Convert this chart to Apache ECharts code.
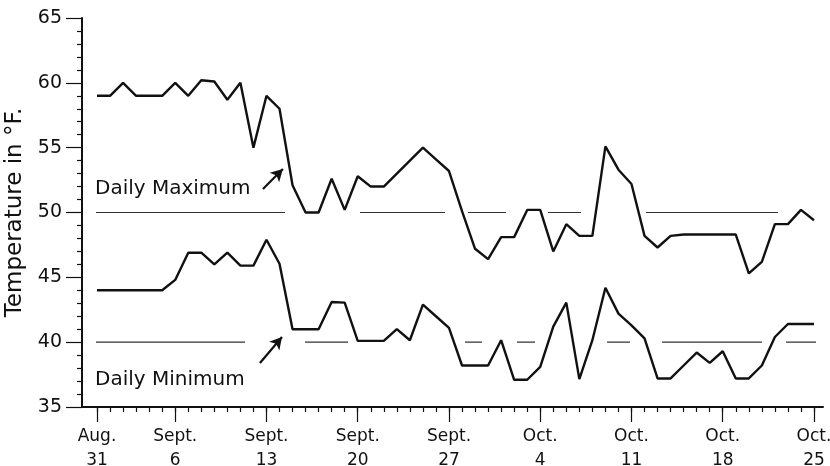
<!DOCTYPE html>
<html><head><meta charset="utf-8">
<script src="https://cdn.jsdelivr.net/npm/echarts@6/dist/echarts.min.js"></script>
<style>html,body{margin:0;padding:0;background:#fff}#c{width:830px;height:466px}</style>
</head><body><div id="c"></div>
<script>
// Day index 0 = Aug. 31, 55 = Oct. 25
const tickDays = [0, 6, 13, 20, 27, 34, 41, 48, 55];
const tickLabels = ['Aug.\n31', 'Sept.\n6', 'Sept.\n13', 'Sept.\n20', 'Sept.\n27', 'Oct.\n4', 'Oct.\n11', 'Oct.\n18', 'Oct.\n25'];
const dailyMax = [59, 59, 60, 59, 59, 59, 60, 59, 60.2, 60.1, 58.7, 60, 55, 59, 58,
  52.1, 50, 50, 52.6, 50.2, 52.8, 52, 52, 53, 54, 55, 54.1, 53.2, 50.1,
  47.2, 46.4, 48.1, 48.1, 50.2, 50.2, 47, 49.1, 48.2, 48.2,
  55.1, 53.3, 52.2, 48.2, 47.3, 48.2, 48.3, 48.3, 48.3, 48.3, 48.3,
  45.3, 46.2, 49.1, 49.1, 50.2, 49.4];
const dailyMin = [44, 44, 44, 44, 44, 44, 44.8, 46.9, 46.9, 46.0, 46.9, 45.9, 45.9, 47.9, 46.05,
  41, 41, 41, 43.1, 43.05, 40.1, 40.1, 40.1, 41, 40.15, 42.9, 42.0, 41.1, 38.2,
  38.2, 38.2, 40.15, 37.1, 37.1, 38.1, 41.2, 43.05, 37.15, 40.15,
  44.2, 42.2, 41.3, 40.3, 37.2, 37.2, 38.2, 39.2, 38.4, 39.3, 37.2,
  37.2, 38.2, 40.4, 41.4, 41.4, 41.4];
const maxNormal = 50;
const minNormal = 40;
const normalSpanDays = [-0.69, 55.3];

const toPairs = arr => arr.map((v, i) => [i, v]);
const levelPairs = v => normalSpanDays.map(d => [d, v]);
const FONT = 'DejaVu Sans';

const chart = echarts.init(document.getElementById('c'), null, {renderer: 'canvas'});
chart.setOption({
  animation: false,
  backgroundColor: '#fff',
  grid: [
    {left: 97, right: 16, top: 18, bottom: 59, containLabel: false, outerBoundsMode: 'none'},
    {left: 82, right: 7, top: 18, bottom: 59, containLabel: false, outerBoundsMode: 'none'}
  ],
  xAxis: [
    {
      type: 'value', gridIndex: 0, min: 0, max: 55, interval: 1, position: 'bottom',
      axisLine: {show: false, onZero: false},
      axisTick: {show: true, length: 5, lineStyle: {color: '#111', width: 1.2}},
      axisLabel: {show: false},
      splitLine: {show: false}
    },
    {
      type: 'value', gridIndex: 0, min: 0, max: 55, position: 'bottom',
      axisLine: {show: false, onZero: false},
      axisTick: {show: true, length: 15, customValues: tickDays, lineStyle: {color: '#111', width: 1.2}},
      axisLabel: {
        show: true, customValues: tickDays, margin: 18,
        formatter: v => tickLabels[tickDays.indexOf(v)] || '',
        fontFamily: FONT, fontSize: 17, color: '#111', lineHeight: 24
      },
      splitLine: {show: false}
    },
    {
      type: 'value', gridIndex: 1, min: 0, max: 1, position: 'bottom',
      axisLine: {show: true, onZero: false, lineStyle: {color: '#111', width: 2}},
      axisTick: {show: false}, axisLabel: {show: false}, splitLine: {show: false}
    }
  ],
  yAxis: [
    {
      type: 'value', gridIndex: 0, min: 35, max: 65, interval: 5, offset: 15, position: 'left',
      name: 'Temperature in \u00b0F.', nameLocation: 'middle', nameGap: 28, nameRotate: 90,
      nameTextStyle: {fontFamily: FONT, fontSize: 23, color: '#111'},
      axisLine: {show: true, onZero: false, lineStyle: {color: '#111', width: 2}},
      axisTick: {show: true, length: 16, lineStyle: {color: '#111', width: 1.2}},
      minorTick: {show: true, splitNumber: 5, length: 5, lineStyle: {color: '#111', width: 1.2}},
      axisLabel: {margin: 20, fontFamily: FONT, fontSize: 19, color: '#111'},
      splitLine: {show: false}
    },
    {type: 'value', gridIndex: 1, min: 0, max: 1, show: false}
  ],
  series: [
    {
      type: 'line', name: 'Normal max', xAxisIndex: 0, yAxisIndex: 0,
      data: levelPairs(maxNormal), symbol: 'none', clip: false, silent: true, z: 2,
      lineStyle: {color: '#333', width: 1.2, type: [197, 75, 85, 23, 38, 42, 33, 65, 132, 2000]}
    },
    {
      type: 'line', name: 'Normal min', xAxisIndex: 0, yAxisIndex: 0,
      data: levelPairs(minNormal), symbol: 'none', clip: false, silent: true, z: 2,
      lineStyle: {color: '#333', width: 1.2, type: [157, 60, 43, 117, 17, 35, 18, 72, 23, 32, 100, 24, 32, 2000]}
    },
    {
      type: 'line', name: 'Daily Maximum', xAxisIndex: 0, yAxisIndex: 0,
      data: toPairs(dailyMax), symbol: 'none', clip: false,
      lineStyle: {color: '#111', width: 2.4}, z: 5
    },
    {
      type: 'line', name: 'Daily Minimum', xAxisIndex: 0, yAxisIndex: 0,
      data: toPairs(dailyMin), symbol: 'none', clip: false,
      lineStyle: {color: '#111', width: 2.4}, z: 5,
      markLine: {
        silent: true, symbol: ['none', 'arrow'], symbolSize: [10, 12], label: {show: false},
        lineStyle: {color: '#111', width: 2.2, type: 'solid', curveness: 0},
        data: [
          [{coord: [12.73, 51.81]}, {coord: [14.26, 53.35]}],
          [{coord: [12.5, 38.39], lineStyle: {curveness: 0.15}}, {coord: [14.19, 40.4]}]
        ]
      }
    }
  ],
  graphic: [
    {type: 'text', left: 95, top: 179, style: {text: 'Daily Maximum', font: '20px "DejaVu Sans"', fill: '#111'}},
    {type: 'text', left: 95, top: 370, style: {text: 'Daily Minimum', font: '20px "DejaVu Sans"', fill: '#111'}}
  ]
});
</script>
</body></html>
